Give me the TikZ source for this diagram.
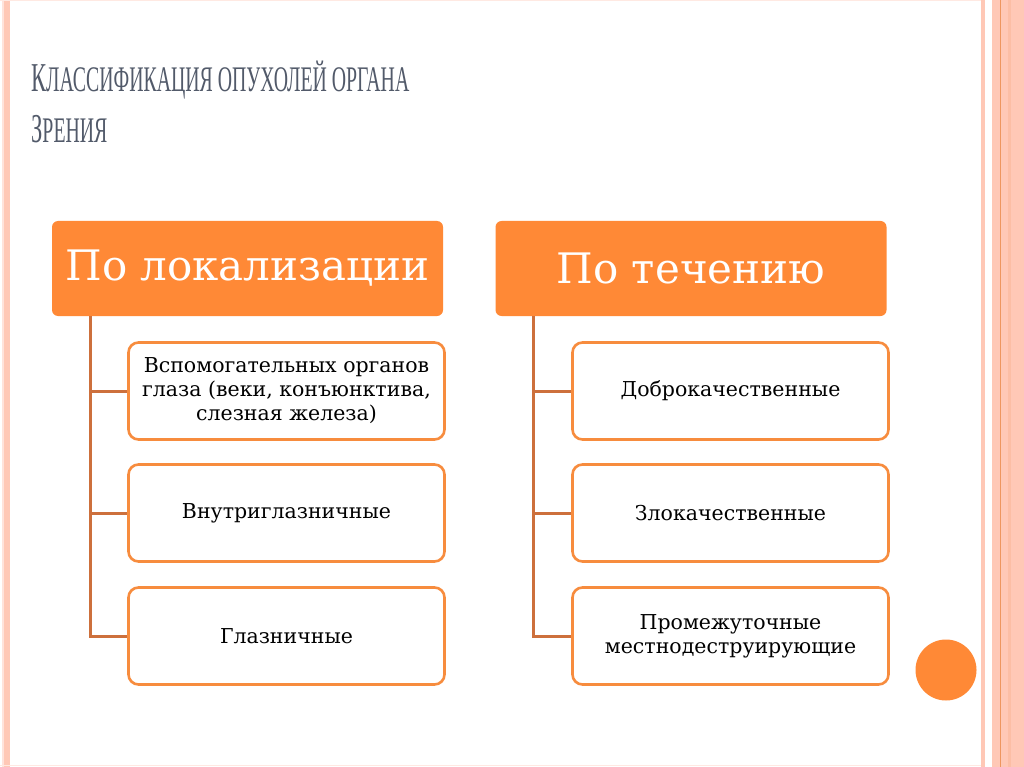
\documentclass[tikz,border=0pt]{standalone}
\usepackage{fontspec}
\setmainfont{DejaVu Serif}
\newfontfamily\titlefont{Liberation Serif}
\definecolor{hdr}{RGB}{255,137,54}
\definecolor{brd}{RGB}{247,140,62}
\definecolor{conn}{RGB}{205,112,60}
\definecolor{stripe}{RGB}{255,200,182}
\definecolor{stripedark}{RGB}{238,150,95}
\definecolor{ttl}{RGB}{82,90,106}
\tikzset{
  hdrbox/.style={draw=none, fill=hdr, rounded corners=6pt, minimum width=391pt, minimum height=95pt, text=white, font=\fontsize{42}{42}\selectfont, inner sep=0pt},
  childbox/.style={draw=brd, line width=2.6pt, fill=white, rounded corners=10pt, minimum width=316pt, minimum height=97pt, align=center, font=\fontsize{20.5}{24}\selectfont, inner sep=0pt},
  connline/.style={draw=conn, line width=3pt},
}
\newcommand{\tbig}[1]{{\fontsize{41}{41}\selectfont #1}}
\newcommand{\tsmall}[1]{{\fontsize{36}{36}\selectfont #1}}
\begin{document}
\begin{tikzpicture}[x=1pt,y=-1pt]
\useasboundingbox (0,0) rectangle (1024,767);
\fill[white] (0,0) rectangle (1024,767);
% frame stripes
\fill[stripe] (4,0) rectangle (10,767);
\fill[stripe!50] (2,0) rectangle (4,767);
\fill[stripe] (981,0) rectangle (985,767);
\fill[stripe] (992,0) rectangle (1024,767);
\fill[stripe!80!stripedark] (1008,0) rectangle (1011,767);
\draw[stripedark, line width=1pt] (1000.5,0) -- (1000.5,767);
\draw[stripe!40, line width=1pt] (0,1) -- (981,1);
\draw[stripe!40, line width=1pt] (0,765) -- (981,765);
% title
\node[anchor=base west, inner sep=0pt, text=ttl, font=\titlefont] (t1) at (31,92)
  {\scalebox{0.55}[1]{\tbig{К}\tsmall{ЛАССИФИКАЦИЯ ОПУХОЛЕЙ ОРГАНА}}};
\node[anchor=base west, inner sep=0pt, text=ttl, font=\titlefont] (t2) at (31,143)
  {\scalebox{0.55}[1]{\tbig{З}\tsmall{РЕНИЯ}}};
% headers
\node[hdrbox] (h1) at (247.5,268.5) {По локализации};
\node[hdrbox] (h2) at (691,268.5) {По течению};
% children
\node[childbox] (c11) at (286.5,391) {Вспомогательных органов\\глаза (веки, конъюнктива,\\слезная железа)};
\node[childbox] (c12) at (286.5,513) {Внутриглазничные};
\node[childbox] (c13) at (286.5,636) {Глазничные};
\node[childbox] (c21) at (730.5,391) {Доброкачественные};
\node[childbox] (c22) at (730.5,513) {Злокачественные};
\node[childbox] (c23) at (730.5,636) {Промежуточные\\местнодеструирующие};
% connectors
\coordinate (s1) at (90,316);
\coordinate (s2) at (533,316);
\draw[connline] (s1) |- (c13.west);
\draw[connline] (s1 |- c11.west) -- (c11.west);
\draw[connline] (s1 |- c12.west) -- (c12.west);
\draw[connline] (s2) |- (c23.west);
\draw[connline] (s2 |- c21.west) -- (c21.west);
\draw[connline] (s2 |- c22.west) -- (c22.west);
% decorative circle
\node[circle, fill=hdr, minimum size=61pt, inner sep=0pt] (dot) at (946,670) {};
\end{tikzpicture}
\end{document}
